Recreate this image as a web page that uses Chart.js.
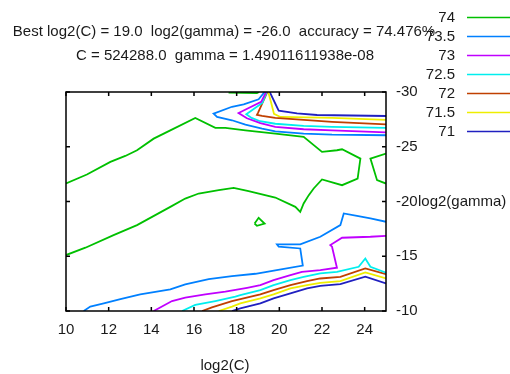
<!DOCTYPE html>
<html><head><meta charset="utf-8">
<script src="https://cdn.jsdelivr.net/npm/chart.js@4"></script>
<style>html,body{margin:0;padding:0;background:#fff}canvas{display:block}</style>
</head><body>
<canvas id="c" width="510" height="374"></canvas>
<script>
const titleLines = ['Best log2(C) = 19.0  log2(gamma) = -26.0  accuracy = 74.476%', 'C = 524288.0  gamma = 1.49011611938e-08'];
const xTitle = 'log2(C)';
const yTitle = 'log2(gamma)';
const xTicks = [10, 12, 14, 16, 18, 20, 22, 24];
const yTicks = [-30, -25, -20, -15, -10];
const levels = ['74', '73.5', '73', '72.5', '72', '71.5', '71'];
const colors = ['#00c000', '#0080ff', '#c000ff', '#00eeee', '#c04000', '#eeee00', '#2020c0'];

// contour level 74
const c74a = [[10,-21.64],[10.98,-22.46],[12.08,-23.62],[12.78,-24.16],[13.33,-24.68],[14.11,-25.74],[14.89,-26.50],[16.06,-27.63],[17.00,-26.72],[17.47,-26.72],[18.41,-26.50],[19.81,-26.20],[21.14,-25.90],[22.00,-24.53],[22.70,-24.68],[22.94,-24.77],[23.80,-23.92],[23.67,-22.10],[22.94,-21.49],[22.00,-22.01],[21.61,-21.19],[21.38,-20.58],[21.14,-19.82],[20.98,-19.06],[20.75,-19.51],[19.81,-20.36],[18.56,-20.94],[17.86,-21.25],[17.16,-21.03],[16.22,-20.73],[15.59,-20.27],[14.89,-19.51],[13.33,-17.84],[12.23,-16.93],[10.91,-15.78],[10,-15.11]];
const c74b = [[25,-24.38],[24.27,-23.92],[24.58,-21.95],[25,-21.64]];
const c74c = [[18.84,-17.99],[19.03,-18.51],[19.31,-17.99],[18.95,-17.78],[18.84,-17.99]];
const c74d = [[17.62,-29.95],[18.95,-29.9],[19.05,-30]];
// contour level 73.5
const c735a = [[19.31,-30],[19.03,-29.33],[18.33,-28.87],[17.78,-28.65],[16.92,-28.02],[17.08,-27.72],[17.78,-27.42],[18.41,-27.02],[19.19,-26.66],[19.81,-26.41],[21.14,-26.20],[22.47,-26.11],[25,-26.05]];
const c735b = [[10.83,-10],[11.14,-10.40],[11.77,-10.70],[12.55,-11.09],[13.48,-11.52],[14.89,-11.98],[15.59,-12.43],[16.69,-12.92],[17.78,-13.19],[18.88,-13.40],[19.81,-13.70],[21.1,-14.15],[20.98,-15.71],[19.97,-15.87],[19.89,-16.08],[20.98,-16.08],[21.92,-16.78],[22.86,-17.84],[23.02,-18.91],[23.64,-18.69],[24.27,-18.45],[25,-18.15]];
// contour level 73
const c73a = [[19.38,-30],[19.15,-29.1],[18.09,-28.08],[18.48,-27.6],[19.11,-27.15],[19.81,-26.81],[21.14,-26.60],[22.47,-26.50],[25,-26.32]];
const c73b = [[14.11,-10],[14.97,-10.91],[15.59,-11.22],[16.53,-11.52],[17.47,-11.76],[18.49,-12.12],[19.11,-12.36],[19.73,-12.82],[20.52,-13.27],[21.06,-13.58],[21.92,-13.73],[22.70,-13.95],[22.47,-15.87],[22.39,-16.02],[22.94,-16.69],[24.27,-16.78],[25,-16.87]];
// contour level 72.5
const c725a = [[19.41,-30],[19.2,-29.0],[18.45,-27.97],[18.7,-27.63],[19.1,-27.33],[19.81,-27.1],[21.14,-26.90],[22.47,-26.81],[25,-26.72]];
const c725b = [[15.44,-10],[16.06,-10.55],[17.00,-10.91],[17.94,-11.31],[18.17,-11.45],[19.11,-11.91],[19.73,-12.36],[20.52,-12.82],[21.14,-13.12],[21.92,-13.43],[22.70,-13.58],[23.72,-14.04],[24.03,-14.80],[24.27,-14.04],[25,-13.50]];
// contour level 72
const c72a = [[19.44,-30],[19.0,-28.1],[18.95,-27.92],[19.19,-27.82],[19.81,-27.63],[21.14,-27.45],[22.47,-27.28],[25,-27.05]];
const c72b = [[16.38,-10],[16.84,-10.33],[17.78,-10.9],[19.11,-11.51],[19.73,-11.91],[20.52,-12.36],[21.30,-12.73],[21.92,-12.97],[22.86,-13.12],[24.03,-13.89],[25,-13.37]];
// contour level 71.5
const c715a = [[19.48,-30],[19.62,-29.0],[19.75,-28.0],[20.05,-27.72],[22.47,-27.63],[25,-27.45]];
const c715b = [[17.16,-10],[17.78,-10.40],[18.17,-10.69],[19.11,-11.15],[19.73,-11.51],[20.52,-12.06],[21.30,-12.36],[21.92,-12.57],[22.86,-12.73],[24.03,-13.53],[25,-12.98]];
// contour level 71
const c71a = [[19.55,-30],[19.97,-28.3],[20.83,-28.05],[21.77,-27.9],[25,-27.81]];
const c71b = [[17.78,-10],[18.17,-10.24],[19.11,-10.69],[19.73,-11.15],[20.52,-11.61],[21.30,-12.06],[21.92,-12.30],[22.86,-12.45],[24.03,-13.13],[25,-12.52]];

const segments = [
  [0, c74a], [0, c74b], [0, c74c], [0, c74d],
  [1, c735a], [1, c735b],
  [2, c73a], [2, c73b],
  [3, c725a], [3, c725b],
  [4, c72a], [4, c72b],
  [5, c715a], [5, c715b],
  [6, c71a], [6, c71b]
];

const FONT = '"Liberation Sans", Arial, sans-serif';
const TXT = '#1a1a1a';

const datasets = segments.map(([li, pts]) => ({
  label: levels[li],
  data: pts.map(([x, y]) => ({x, y})),
  borderColor: colors[li],
  backgroundColor: colors[li],
  borderWidth: 1.8,
  showLine: true,
  pointRadius: 0,
  fill: false,
  tension: 0
}));

const deco = {
  id: 'deco',
  afterDraw(chart) {
    const {ctx, chartArea: a, scales: {x, y}} = chart;
    ctx.save();
    ctx.strokeStyle = '#000';
    ctx.lineWidth = 1.5;
    ctx.beginPath();
    xTicks.forEach(v => {
      const px = x.getPixelForValue(v);
      ctx.moveTo(px, a.bottom); ctx.lineTo(px, a.bottom - 4);
      ctx.moveTo(px, a.top); ctx.lineTo(px, a.top + 4);
    });
    yTicks.forEach(v => {
      const py = y.getPixelForValue(v);
      ctx.moveTo(a.left, py); ctx.lineTo(a.left + 4, py);
      ctx.moveTo(a.right, py); ctx.lineTo(a.right - 4, py);
    });
    ctx.stroke();
    ctx.strokeRect(a.left, a.top, a.right - a.left, a.bottom - a.top);

    ctx.fillStyle = TXT;
    ctx.font = '15px ' + FONT;
    ctx.textBaseline = 'middle';
    // title
    ctx.textAlign = 'center';
    const cx = (a.left + a.right) / 2 - 1;
    ctx.fillText(titleLines[0], cx - 1, 32);
    ctx.fillText(titleLines[1], cx, 56);
    // axis titles
    ctx.fillText(xTitle, cx, 366);
    ctx.textAlign = 'left';
    ctx.fillText(yTitle, 418, y.getPixelForValue(-20));
    // legend
    levels.forEach((lab, i) => {
      const ly = 17.5 + 19 * i;
      ctx.textAlign = 'right';
      ctx.fillStyle = TXT;
      ctx.fillText(lab, 455, ly);
      ctx.strokeStyle = colors[i];
      ctx.lineWidth = 1.5;
      ctx.beginPath();
      ctx.moveTo(467, ly); ctx.lineTo(512, ly);
      ctx.stroke();
    });
    ctx.restore();
  }
};

new Chart(document.getElementById('c'), {
  type: 'scatter',
  data: { datasets },
  options: {
    responsive: false,
    animation: false,
    events: [],
    layout: { padding: { left: 66, top: 92, right: 0, bottom: 0 } },
    plugins: { legend: { display: false }, tooltip: { enabled: false }, title: { display: false } },
    scales: {
      x: {
        type: 'linear', min: 10, max: 25,
        grid: { display: false, drawTicks: false },
        border: { display: false },
        afterBuildTicks: s => { s.ticks = xTicks.map(v => ({ value: v })); },
        afterFit: s => { s.height = 63; },
        ticks: { padding: 10, maxRotation: 0, autoSkip: false, color: TXT, font: { family: FONT, size: 15 } }
      },
      y: {
        type: 'linear', position: 'right', min: -30, max: -10, reverse: true,
        grid: { display: false, drawTicks: false },
        border: { display: false },
        afterBuildTicks: s => { s.ticks = yTicks.map(v => ({ value: v })); },
        afterFit: s => { s.width = 124; },
        ticks: { padding: 10, autoSkip: false, color: TXT, font: { family: FONT, size: 15 } }
      }
    }
  },
  plugins: [deco]
});
</script>
</body></html>
